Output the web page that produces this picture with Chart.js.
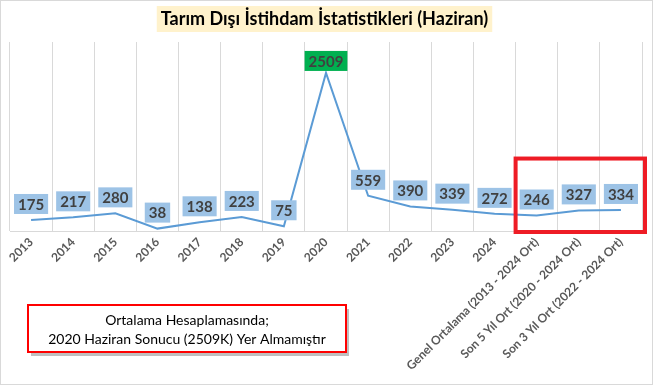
<!DOCTYPE html>
<html>
<head>
<meta charset="utf-8">
<script src="https://cdn.jsdelivr.net/npm/chart.js@4.4.0/dist/chart.umd.min.js"></script>
<style>
  html, body { margin: 0; padding: 0; background: #fff; }
</style>
</head>
<body>
<canvas id="myChart" width="653" height="385"></canvas>
<script>
// chart data
const categories = ['2013', '2014', '2015', '2016', '2017', '2018', '2019', '2020', '2021', '2022', '2023', '2024',
   'Genel Ortalama (2013 - 2024 Ort)', 'Son 5 Yıl Ort (2020 - 2024 Ort)', 'Son 3 Yıl Ort (2022 - 2024 Ort)'];
const values = [175, 217, 280, 38, 138, 223, 75, 2509, 559, 390, 339, 272, 246, 327, 334];
const yMin = 0;
const yMax = 3000;
const titleText = 'Tarım Dışı İstihdam İstatistikleri (Haziran)';
const noteLines = ['Ortalama Hesaplamasında;', '2020 Haziran Sonucu (2509K) Yer Almamıştır'];
const highlightCategory = '2020';
const boxedFrom = 'Genel Ortalama (2013 - 2024 Ort)';

const FONT = 'Lato, "Open Sans", sans-serif';

const decorPlugin = {
   id: 'decor',
   beforeDraw: (chart) => {
      const ctx = chart.ctx;
      ctx.save();
      ctx.fillStyle = '#fff';
      ctx.fillRect(0, 0, chart.width, chart.height);
      // outer border
      ctx.strokeStyle = '#d9d9d9';
      ctx.lineWidth = 1;
      ctx.strokeRect(0.5, 0.5, chart.width - 1, chart.height - 1);
      // title
      ctx.font = 'bold 18px ' + FONT;
      const tw = ctx.measureText(titleText).width;
      const cx = chart.width / 2 - 2;
      ctx.fillStyle = '#FFF2CC';
      ctx.fillRect(cx - tw / 2 - 4, 6, tw + 8, 26);
      ctx.fillStyle = '#000';
      ctx.textAlign = 'center';
      ctx.textBaseline = 'middle';
      ctx.fillText(titleText, cx, 19);
      ctx.restore();
   },
   afterDatasetsDraw: (chart) => {
      const ctx = chart.ctx;
      const meta = chart.getDatasetMeta(0);
      ctx.save();
      ctx.font = 'bold 15px ' + FONT;
      ctx.textAlign = 'center';
      ctx.textBaseline = 'middle';
      meta.data.forEach((pt, i) => {
         const txt = String(values[i]);
         const w = ctx.measureText(txt).width + 8;
         const h = 20;
         const green = categories[i] === highlightCategory;
         const cy = pt.y - (green ? 12 : 16);
         ctx.fillStyle = green ? '#00B050' : '#9DC3E6';
         ctx.fillRect(pt.x - w / 2, cy - h / 2, w, h);
         ctx.fillStyle = '#404040';
         ctx.fillText(txt, pt.x, cy + 1);
      });

      // red highlight box around averages
      const xs = chart.scales.x;
      const ys = chart.scales.y;
      const idx = categories.indexOf(boxedFrom);
      const left = (xs.getPixelForValue(idx) + xs.getPixelForValue(idx - 1)) / 2;
      const right = chart.chartArea.right + 3;
      const top = ys.getPixelForValue(1150);
      const bottom = chart.chartArea.bottom + 1;
      ctx.strokeStyle = '#EE1C25';
      ctx.lineWidth = 4;
      ctx.strokeRect(left, top, right - left, bottom - top);

      // note box
      const bx = 28, by = 305, bw = 318, bh = 47;
      ctx.fillStyle = 'rgba(0,0,0,0.25)';
      ctx.fillRect(bx + 3, by + 4, bw, bh);
      ctx.fillStyle = '#fff';
      ctx.fillRect(bx, by, bw, bh);
      ctx.strokeStyle = '#FF0000';
      ctx.lineWidth = 2;
      ctx.strokeRect(bx, by, bw, bh);
      ctx.fillStyle = '#000';
      ctx.font = '14px ' + FONT;
      ctx.fillText(noteLines[0], bx + bw / 2, by + 15);
      ctx.fillText(noteLines[1], bx + bw / 2, by + 34);
      ctx.restore();
   }
};

const ctx = document.getElementById('myChart').getContext('2d');
new Chart(ctx, {
   type: 'line',
   data: {
      labels: categories,
      datasets: [{
         data: values,
         borderColor: '#5B9BD5',
         borderWidth: 2,
         pointRadius: 0,
         tension: 0,
         fill: false
      }]
   },
   options: {
      responsive: false,
      animation: false,
      devicePixelRatio: 1,
      layout: { padding: { top: 42, left: 10, right: 11, bottom: 0 } },
      plugins: {
         legend: { display: false },
         tooltip: { enabled: false },
         title: { display: false }
      },
      scales: {
         x: {
            offset: true,
            grid: { offset: true, color: '#d9d9d9', drawTicks: false },
            border: { color: '#d9d9d9' },
            afterFit: (scale) => { scale.height = 154; },
            ticks: {
               autoSkip: false,
               minRotation: 45,
               maxRotation: 45,
               padding: 4,
               color: '#595959',
               font: { family: FONT, size: 12, weight: 'bold' }
            }
         },
         y: {
            display: false,
            min: yMin,
            max: yMax
         }
      }
   },
   plugins: [decorPlugin]
});
</script>
</body>
</html>
